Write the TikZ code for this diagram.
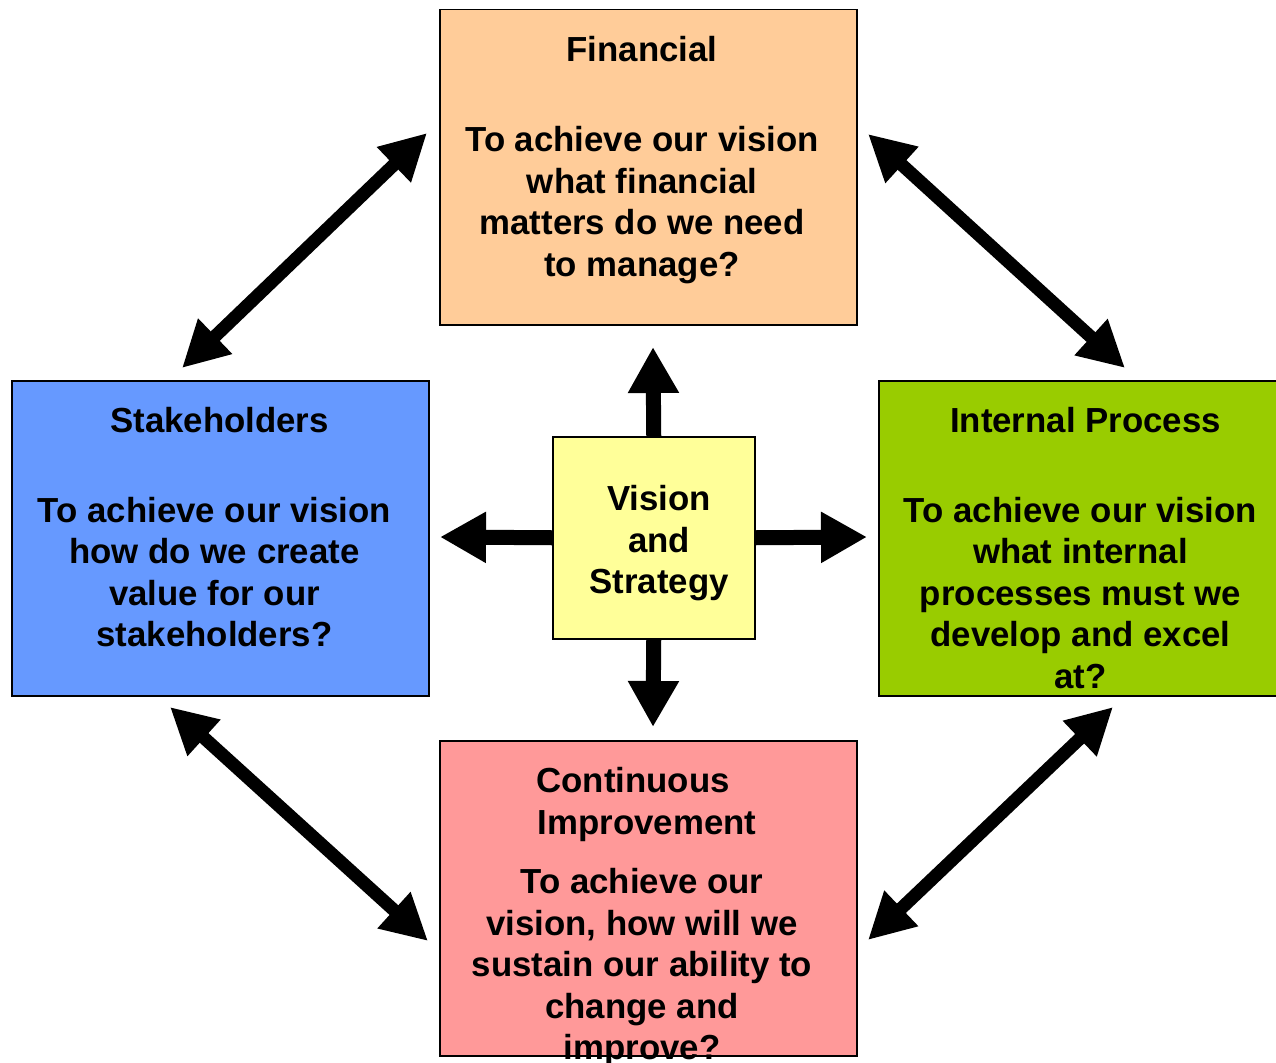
\documentclass[tikz,border=0pt]{standalone}
\usepackage{fontspec}
\setmainfont{Liberation Sans}
\usetikzlibrary{arrows.meta}
\definecolor{fincol}{HTML}{FFCC99}
\definecolor{stkcol}{HTML}{6699FF}
\definecolor{iprcol}{HTML}{99CC00}
\definecolor{cimcol}{HTML}{FF9999}
\definecolor{viscol}{HTML}{FFFF99}
\begin{document}
\begin{tikzpicture}[x=1pt,y=-1pt,
  box/.style={draw=black, line width=1.5pt, minimum width=417pt, minimum height=315pt, inner sep=0pt, anchor=north west},
  txt/.style={font=\fontsize{34.8}{41.5}\selectfont\bfseries, align=center, inner sep=0pt},
  dbl/.style={line width=13pt, {Triangle[length=46pt,width=46pt]}-{Triangle[length=46pt,width=46pt]}},
  sgl/.style={line width=15pt, -{Triangle[length=46pt,width=48pt]}}]
\clip (0,0) rectangle (1276,1062);
\fill[white] (0,0) rectangle (1276,1062);
% boxes
\node[box, fill=fincol] (fin) at (439,9) {};
\node[box, fill=stkcol] (stk) at (11,380) {};
\node[box, fill=iprcol] (ipr) at (878,380) {};
\node[box, fill=cimcol] (cim) at (439,740) {};
\node[draw=black, line width=1.5pt, fill=viscol, minimum width=202pt, minimum height=202pt, inner sep=0pt, anchor=north west] (vis) at (552,436) {};
% texts
\node[txt] (fint) at (642,49) {Financial};
\node[txt] (finb) at (642,205) {To achieve our vision\\what financial\\matters do we need\\to manage?};
\node[txt] (stkt) at (219.5,420) {Stakeholders};
\node[txt] (stkb) at (214.5,572) {To achieve our vision\\how do we create\\value for our\\stakeholders?};
\node[txt] (iprt) at (1085.5,420) {Internal Process};
\node[txt] (iprb) at (1080.5,593) {To achieve our vision\\what internal\\processes must we\\develop and excel\\at?};
\node[txt] (cimt) at (642,804.5) {Continuous\hspace*{18pt}\\\hspace*{10pt}Improvement};
\node[txt] (cimb) at (642,967.5) {To achieve our\\vision, how will we\\sustain our ability to\\change and\\improve?};
\node[txt] (vist) at (659,543.5) {Vision\\and\\Strategy};
% arrows from centre
\coordinate (vup) at (653,347);
\coordinate (vdn) at (653,727);
\coordinate (vlf) at (440,537);
\coordinate (vrt) at (867,537);
\draw[sgl] (vis.north) -- (vup);
\draw[sgl] (vis.south) -- (vdn);
\draw[sgl] (vis.west) -- (vlf);
\draw[sgl] (vis.east) -- (vrt);
% diagonal double arrows
\coordinate (d1a) at (182,368);
\coordinate (d1b) at (427,133);
\coordinate (d2a) at (868,134);
\coordinate (d2b) at (1125,368);
\coordinate (d3a) at (170,707);
\coordinate (d3b) at (428,941);
\coordinate (d4a) at (868,940);
\coordinate (d4b) at (1113,707);
\draw[dbl] (d1a) -- (d1b);
\draw[dbl] (d2a) -- (d2b);
\draw[dbl] (d3a) -- (d3b);
\draw[dbl] (d4a) -- (d4b);
\end{tikzpicture}
\end{document}
